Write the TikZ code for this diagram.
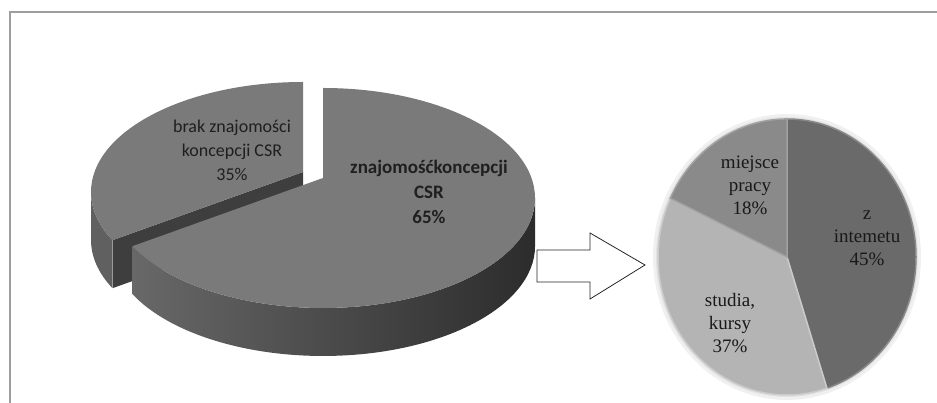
\documentclass[tikz,border=0pt]{standalone}
\usepackage{fontspec}
\newfontfamily\lblsans{Carlito}
\newfontfamily\lblserif{Liberation Serif}
\usepackage{xcolor}
\usepackage{tikz}

\definecolor{pietop}{RGB}{122,122,122}
\definecolor{pieside}{RGB}{96,96,96}
\definecolor{piecut}{RGB}{62,62,62}
\definecolor{sideleft}{RGB}{104,104,104}
\definecolor{sideright}{RGB}{44,44,44}
\definecolor{zint}{RGB}{106,106,106}
\definecolor{stud}{RGB}{180,180,180}
\definecolor{miej}{RGB}{138,138,138}

\begin{document}
\begin{tikzpicture}[x=1pt,y=1pt,
  lbl/.style={font=\lblsans\fontsize{18}{24}\selectfont,text=black!88,align=center},
  lblbold/.style={font=\lblsans\bfseries\fontsize{19}{25}\selectfont,text=black!88,align=center},
  lblser/.style={font=\lblserif\fontsize{19}{23}\selectfont,text=black!90,align=center}]
\useasboundingbox (0,0) rectangle (937,403);
%\draw[step=50,red,thin] (0,0) grid (937,403);
\draw[black!38,line width=1.5] (10,0) -- (10,391) -- (937,391);

% 35% slice, moved out to the left
\fill[piecut] (303,231) -- (112.5,162.8) -- (112.5,114.8) -- (303,183) -- cycle;
\fill[pieside] (91,211) arc[start angle=180,end angle=206,x radius=212,y radius=110]
  -- ++(0,-48) arc[start angle=206,end angle=180,x radius=212,y radius=110] -- cycle;
\fill[pietop] (303,231) -- (303,321) arc[start angle=90,end angle=206,x radius=212,y radius=110] -- cycle;

% 65% slice
\shade[left color=sideleft,right color=sideright] (132.5,156.8)
  arc[start angle=206,end angle=360,x radius=212,y radius=110]
  -- ++(0,-48) arc[start angle=360,end angle=206,x radius=212,y radius=110] -- cycle;
\fill[pietop] (323,225) -- (323,315) arc[start angle=90,end angle=-154,x radius=212,y radius=110] -- cycle;

\node[lbl] (brak) at (232,253) {brak znajomości\\koncepcji CSR\\35\%};
\node[lblbold] (znaj) at (429,211) {znajomośćkoncepcji\\CSR\\65\%};

% block arrow
\draw[black!85,line width=0.8,line join=miter] (537,153) -- (590,153) -- (590,170) -- (645,138)
  -- (590,104) -- (590,121) -- (537,121) -- cycle;

% second pie
\fill[black!6] (787,146) ellipse[x radius=134,y radius=143];
\fill[black!11] (787,146) ellipse[x radius=131,y radius=140];
\fill[zint,draw=zint!80!white,line width=1.5] (787,146) -- (787,284)
  arc[start angle=90,end angle=-72,x radius=129,y radius=138] -- cycle;
\fill[stud,draw=stud!70!white,line width=1.5] (787,146) -- (826.9,14.8)
  arc[start angle=-72,end angle=-205.2,x radius=129,y radius=138] -- cycle;
\fill[miej,draw=miej!80!white,line width=1.5] (787,146) -- (670.3,204.8)
  arc[start angle=154.8,end angle=90,x radius=129,y radius=138] -- cycle;

\node[lblser] (miejsce) at (750,218) {miejsce\\pracy\\18\%};
\node[lblser] (internet) at (867,165) {z\\intemetu\\45\%};
\node[lblser] (studia) at (730,80) {studia,\\kursy\\37\%};

\end{tikzpicture}
\end{document}
